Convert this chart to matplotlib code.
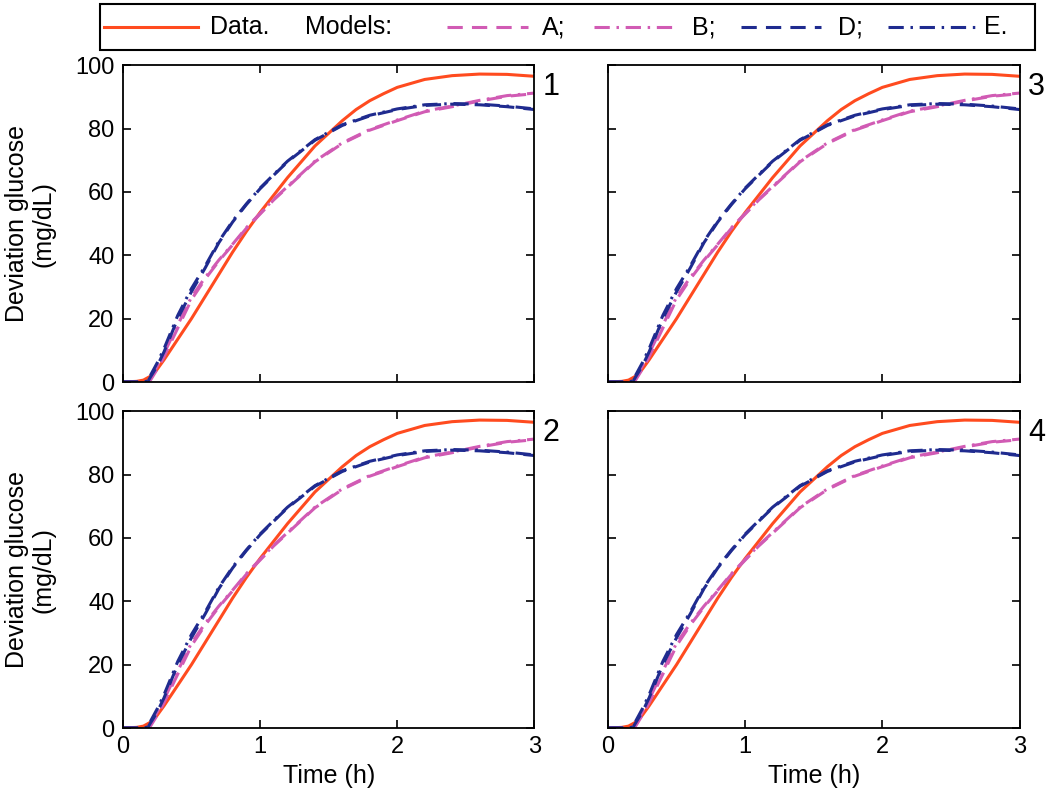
import numpy as np
import matplotlib.pyplot as plt
from matplotlib.lines import Line2D
from matplotlib.patches import Rectangle

plt.rcParams['font.family'] = ['Liberation Sans', 'DejaVu Sans']

# time (h) and glucose deviation (mg/dL)
t_data = [0, 0.1, 0.15, 0.2, 0.25, 0.3, 0.4, 0.5, 0.6, 0.7, 0.8, 0.9, 1.0, 1.1, 1.2,
          1.3, 1.4, 1.5, 1.6, 1.7, 1.8, 1.9, 2.0, 2.2, 2.4, 2.6, 2.8, 3.0]
y_data = [0, 0.2, 0.6, 1.8, 4, 7, 13.5, 20, 27, 34, 41, 47.5, 53.5, 59, 64.5,
          69.5, 74.5, 78.5, 82.5, 86, 88.8, 91, 93, 95.5, 96.7, 97.2, 97.1, 96.5]

t_mod = [0, 0.15, 0.18, 0.2, 0.25, 0.3, 0.4, 0.5, 0.6, 0.7, 0.8, 0.9, 1.0, 1.1,
         1.2, 1.4, 1.6, 1.8, 2.0, 2.2, 2.4, 2.6, 2.8, 3.0]
y_A = [0, 0, 0, 0.5, 4, 8, 17, 26, 32.5, 38.2, 43.3, 48.5, 53, 57.5,
       61.5, 69.5, 75.3, 79.5, 82.5, 85.3, 86.9, 88.7, 90.2, 91]
y_B = [0, 0, 0, 1, 5, 9, 18, 26.8, 33, 38.5, 43.5, 48.7, 53.2, 57.7,
       61.7, 69.7, 75.5, 79.7, 82.7, 85.5, 87.1, 88.9, 90.4, 91.2]
y_D = [0, 0, 0, 1.5, 5, 9.5, 20, 28.5, 36, 44, 50.5, 56, 61, 65.3,
       69.5, 76.3, 81, 84, 86, 87.3, 87.7, 87.5, 86.9, 86]
y_E = [0, 0, 0.3, 2, 6, 10.5, 21, 29.5, 36.6, 44.4, 50.8, 56.2, 61.2, 65.5,
       69.7, 76.5, 81.2, 84.2, 86.2, 87.5, 87.9, 87.7, 87.1, 86.2]

panel_ids = ['1', '3', '2', '4']

c_data = '#ff4b1f'
c_ab = '#d15bb4'
c_de = '#1f2b8f'
lw = 2.2
dash = (5, 3)
dashdot = (5, 2.2, 0.8, 2.2)

fig = plt.figure(figsize=(10.5, 7.98), dpi=100)
lefts = [0.117, 0.579]
bottoms = [0.5213, 0.0877]
w, h = 0.392, 0.397

k = 0
for r in range(2):
    for c in range(2):
        ax = fig.add_axes([lefts[c], bottoms[r], w, h])
        ax.plot(t_data, y_data, color=c_data, lw=lw)
        ax.plot(t_mod, y_A, color=c_ab, lw=lw, dashes=dash)
        ax.plot(t_mod, y_B, color=c_ab, lw=lw, dashes=dashdot)
        ax.plot(t_mod, y_D, color=c_de, lw=lw, dashes=dash)
        ax.plot(t_mod, y_E, color=c_de, lw=lw, dashes=dashdot)
        ax.set_xlim(0, 3)
        ax.set_ylim(0, 100)
        ax.set_xticks([0, 1, 2, 3])
        ax.set_yticks([0, 20, 40, 60, 80, 100])
        ax.tick_params(direction='in', top=True, right=True, length=6,
                       width=1.2, labelsize=17, pad=6)
        for s in ax.spines.values():
            s.set_linewidth(1.3)
        if r == 0:
            ax.set_xticklabels([])
        else:
            ax.set_xlabel('Time (h)', fontsize=18, labelpad=4)
        if c == 1:
            ax.set_yticklabels([])
        else:
            ax.set_ylabel('Deviation glucose\n(mg/dL)', fontsize=18, labelpad=14,
                          linespacing=1.15)
        ax.text(1.02, 0.93, panel_ids[k], transform=ax.transAxes,
                fontsize=22, ha='left', va='center')
        k += 1

# legend box drawn across the top
fig.patches.append(Rectangle((100 / 1050, 1 - 50 / 798), 935 / 1050, 46 / 798,
                             transform=fig.transFigure, fill=False,
                             lw=1.5, ec='black'))
ly = 1 - 27 / 798
entries = [
    (c_data, None, 104, 198, 'Data.', 210),
    (None, None, 0, 0, 'Models:', 305),
    (c_ab, dash, 447, 528, 'A;', 542),
    (c_ab, dashdot, 594, 677, 'B;', 692),
    (c_de, dash, 741, 821, 'D;', 838),
    (c_de, dashdot, 888, 975, 'E.', 984),
]
for col, ds, x0, x1, lab, xt in entries:
    if col is not None:
        ln = Line2D([x0 / 1050, x1 / 1050], [ly, ly], transform=fig.transFigure,
                    color=col, lw=lw)
        if ds is not None:
            ln.set_dashes(ds)
        fig.lines.append(ln)
    fig.text(xt / 1050, ly, lab, fontsize=18, ha='left', va='center')

fig.savefig('out.png', dpi=100)
